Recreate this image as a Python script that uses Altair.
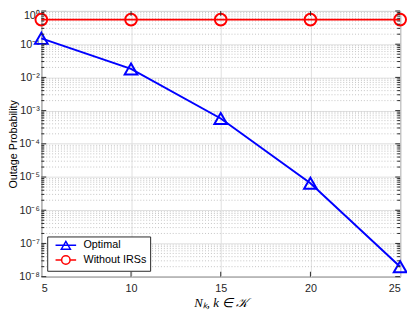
import altair as alt
import pandas as pd

# ---- data ----
ns = [5, 10, 15, 20, 25]
optimal = [0.15, 0.018, 5.8e-4, 6.5e-6, 2.0e-8]
without_irs = [0.55, 0.55, 0.55, 0.55, 0.55]
series_names = ["Optimal", "Without IRSs"]
series_colors = ["#0000ff", "#ff0000"]
x_ticks = [5, 10, 15, 20, 25]
y_major = [1e-8, 1e-7, 1e-6, 1e-5, 1e-4, 1e-3, 1e-2, 1e-1, 1.0]
y_minor = [d * 10.0 ** k for k in range(-8, 0) for d in range(2, 10)]
y_labels = ["10⁻⁸", "10⁻⁷", "10⁻⁶", "10⁻⁵", "10⁻⁴", "10⁻³", "10⁻²", "10⁻¹", "10⁰"]

W, H = 366, 271
AX = "#262626"

df = pd.DataFrame({
    "n": ns * 2,
    "p": optimal + without_irs,
    "series": [series_names[0]] * len(ns) + [series_names[1]] * len(ns),
})
minor_df = pd.DataFrame({"v": y_minor})
major_df = pd.DataFrame({"v": y_major})
xt_df = pd.DataFrame({"t": x_ticks[1:-1]})

xscale = alt.Scale(domain=[5, 25], nice=False, zero=False)
yscale = alt.Scale(type="log", domain=[1e-8, 1], nice=False)
cscale = alt.Scale(domain=series_names, range=series_colors)

label_arr = "[" + ",".join("'%s'" % s for s in y_labels) + "]"

x_axis = alt.Axis(values=x_ticks, title="Nₖ, k ∈ 𝒦", grid=True, gridColor="#dfdfdf",
                  ticks=False, domain=False, labelFontSize=11, labelPadding=6,
                  labelColor=AX, titleFont="Liberation Serif", titleFontStyle="italic",
                  titleFontWeight="normal", titleFontSize=13, titlePadding=3, titleColor="#000000")
y_axis = alt.Axis(values=y_major, title="Outage Probability", grid=True, gridColor="#dfdfdf",
                  ticks=False, domain=False, labelFontSize=11, labelPadding=2, labelColor=AX,
                  labelExpr=label_arr + "[round(log(datum.value)/LN10)+8]",
                  labelOffset={"condition": {"test": "datum.value >= 1", "value": 5}, "value": 0},
                  titleFontWeight="normal", titleFontSize=11, titleColor="#000000",
                  titleAngle=270, titleX=-28.5, titleY=H / 2, titleAlign="center",
                  titleBaseline="middle")

minor_grid = alt.Chart(minor_df).mark_rule(color="#c4c4c4", strokeDash=[1, 2], strokeWidth=1).encode(
    y=alt.Y("v:Q", scale=yscale))


def series_df(i):
    return df[df["series"] == series_names[i]]


line_opt = alt.Chart(series_df(0)).mark_line(strokeWidth=2, color=series_colors[0]).encode(
    x=alt.X("n:Q", scale=xscale, axis=x_axis),
    y=alt.Y("p:Q", scale=yscale, axis=y_axis),
)
line_wo = alt.Chart(series_df(1)).mark_line(strokeWidth=2, color=series_colors[1]).encode(
    x=alt.X("n:Q", scale=xscale),
    y=alt.Y("p:Q", scale=yscale),
)
tri = alt.Chart(series_df(0)).mark_point(
    shape="triangle-up", size=169, filled=False, strokeWidth=2, opacity=1,
    color=series_colors[0]).encode(
    x=alt.X("n:Q", scale=xscale),
    y=alt.Y("p:Q", scale=yscale),
)
circ = alt.Chart(series_df(1)).mark_point(
    shape="circle", size=144, filled=False, strokeWidth=2, opacity=1,
    color=series_colors[1]).encode(
    x=alt.X("n:Q", scale=xscale),
    y=alt.Y("p:Q", scale=yscale),
)

tri_path = "M-2.1,0H2.1M0,-0.8L0.93,0.8L-0.93,0.8Z"
circ_path = "M-2.1,0H-0.86M0.86,0H2.1M0.86,0A0.86,0.86,0,1,1,-0.86,0A0.86,0.86,0,1,1,0.86,0Z"


def make_legend():
    return alt.Legend(title=None, orient="none", legendX=6, legendY=230, padding=3,
                      strokeColor=AX, fillColor="#ffffff", labelFontSize=11,
                      labelColor="#000000", symbolOffset=10, labelOffset=12,
                      rowPadding=0, cornerRadius=0)


legend_layer = alt.Chart(df).transform_filter("datum.n < 0").mark_point(
    filled=False, strokeWidth=2, size=196, opacity=1).encode(
    x=alt.X("n:Q", scale=xscale),
    y=alt.Y("p:Q", scale=yscale),
    color=alt.Color("series:N", scale=cscale, legend=make_legend()),
    shape=alt.Shape("series:N", scale=alt.Scale(domain=series_names, range=[tri_path, circ_path]),
                    legend=make_legend()),
)

ytick_y = alt.Y("v:Q", scale=yscale)
ticks_l_minor = alt.Chart(minor_df).mark_rule(color=AX).encode(y=ytick_y, x=alt.value(0), x2=alt.value(3))
ticks_r_minor = alt.Chart(minor_df).mark_rule(color=AX).encode(y=ytick_y, x=alt.value(W - 3), x2=alt.value(W))
ticks_l_major = alt.Chart(major_df).mark_rule(color=AX).encode(y=ytick_y, x=alt.value(0), x2=alt.value(5))
ticks_r_major = alt.Chart(major_df).mark_rule(color=AX).encode(y=ytick_y, x=alt.value(W - 5), x2=alt.value(W))
xt = alt.X("t:Q", scale=xscale)
ticks_b = alt.Chart(xt_df).mark_rule(color=AX).encode(x=xt, y=alt.value(H - 5), y2=alt.value(H))
ticks_t = alt.Chart(xt_df).mark_rule(color=AX).encode(x=xt, y=alt.value(0), y2=alt.value(5))

chart = alt.layer(
    minor_grid, line_opt, line_wo, tri, circ, legend_layer,
    ticks_l_minor, ticks_r_minor, ticks_l_major, ticks_r_major, ticks_b, ticks_t,
).properties(
    width=W, height=H,
    autosize=alt.AutoSizeParams(type="none"),
    padding={"left": 34, "top": 0, "right": 7, "bottom": 33},
).configure(
    font="Liberation Sans"
).configure_view(stroke=AX, strokeWidth=1)

chart.save("out.html", embed_options={"renderer": "svg", "actions": False})
